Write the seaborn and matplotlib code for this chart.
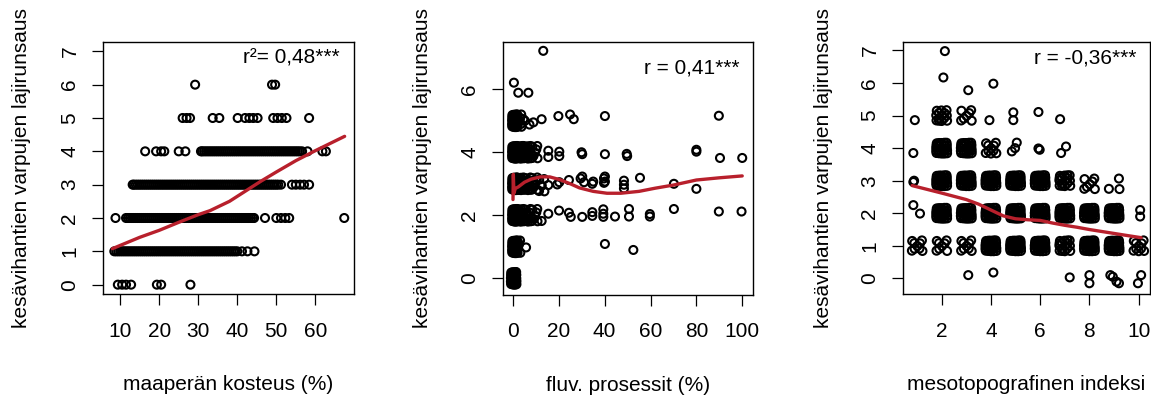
import pandas as pd
import numpy as np
import matplotlib
matplotlib.use("Agg")
import matplotlib.pyplot as plt
import seaborn as sns

sns.set_style("white")
plt.rcParams['font.family'] = ['Liberation Sans', 'DejaVu Sans']
plt.rcParams['text.color'] = 'black'
plt.rcParams['axes.labelcolor'] = 'black'

# ---------------- Data ----------------
ylabel = "kesävihantien varpujen lajirunsaus"

# Panel 1: soil moisture (%) per species richness level
moist_y0 = [9.4, 10.5, 11.5, 12.8, 19.4, 20.5, 28.0]
moist_y1 = [8.5, 9.0, 9.5, 10.0, 10.5, 11.0, 11.5, 12.0, 12.5, 13.0, 13.5, 14.0, 14.5,
            15.0, 15.5, 16.0, 16.5, 17.0, 17.5, 18.0, 18.5, 19.0, 19.5, 20.0, 20.5,
            21.0, 21.5, 22.0, 22.5, 23.0, 23.5, 24.0, 24.5, 25.0, 25.5, 26.0, 26.5,
            27.0, 27.5, 28.0, 28.5, 29.0, 29.5, 30.0, 30.5, 31.0, 31.5, 32.0, 32.5,
            33.0, 33.5, 34.0, 34.5, 35.0, 35.5, 36.0, 36.5, 37.0, 37.5, 38.0, 38.5,
            39.0, 39.5, 40.0, 41.2, 42.6, 44.4]
moist_y2 = [8.8, 11.5, 12.0, 12.5, 13.0, 13.5, 14.0, 14.5, 15.0, 15.5, 16.0, 16.5,
            17.0, 17.5, 18.0, 18.5, 19.0, 19.5, 20.0, 20.5, 21.0, 21.5, 22.0, 22.5,
            23.0, 23.5, 24.0, 24.5, 25.0, 25.5, 26.0, 26.5, 27.0, 27.5, 28.0, 28.5,
            29.0, 29.5, 30.0, 30.5, 31.0, 31.5, 32.0, 32.5, 33.0, 33.5, 34.0, 34.5,
            35.0, 35.5, 36.0, 36.5, 37.0, 37.5, 38.0, 38.5, 39.0, 39.5, 40.0, 40.5,
            41.0, 41.5, 42.0, 42.5, 43.0, 43.5, 44.0, 44.3, 47.1, 50.0, 51.2, 52.3,
            53.3, 67.4]
moist_y3 = [13.2, 13.5, 14.0, 14.5, 15.0, 15.5, 16.0, 16.5, 17.0, 17.5, 18.0, 18.5,
            19.0, 19.5, 20.0, 20.5, 21.0, 21.5, 22.0, 22.5, 23.0, 23.5, 24.0, 24.5,
            25.0, 25.5, 26.0, 26.5, 27.0, 27.5, 28.0, 28.5, 29.0, 29.5, 30.0, 30.5,
            31.0, 31.5, 32.0, 32.5, 33.0, 33.5, 34.0, 34.5, 35.0, 35.5, 36.0, 36.5,
            37.0, 37.5, 38.0, 38.5, 39.0, 39.5, 40.0, 40.5, 41.0, 41.5, 42.0, 42.5,
            43.0, 43.5, 44.0, 44.5, 45.0, 45.5, 46.0, 46.5, 47.0, 47.5, 48.0, 48.5,
            49.0, 49.5, 50.0, 50.5, 51.2, 54.0, 55.0, 56.1, 57.1, 58.4]
moist_y4 = [16.4, 19.2, 20.5, 21.3, 25.0, 26.7, 30.7, 31.0, 31.5, 32.0, 32.5, 33.0,
            33.5, 34.0, 34.5, 35.0, 35.5, 36.0, 36.5, 37.0, 37.5, 38.0, 38.5, 39.0,
            39.5, 40.0, 40.5, 41.0, 41.5, 42.0, 42.5, 43.0, 43.5, 44.0, 44.5, 45.0,
            45.5, 46.0, 46.5, 47.0, 47.5, 48.0, 48.5, 49.0, 49.5, 50.0, 50.5, 51.0,
            51.5, 52.0, 52.5, 53.0, 53.5, 54.0, 54.5, 55.0, 55.5, 56.0, 56.6, 58.0,
            61.8, 62.7]
moist_y5 = [26.0, 27.0, 27.9, 33.7, 35.4, 40.1, 42.0, 43.1, 44.1, 45.2, 49.2, 50.3,
            51.4, 52.6, 58.4]
moist_y6 = [29.2, 48.9, 49.7]
moist_fit_x = [8.0, 15.0, 20.0, 25.0, 30.0, 33.0, 38.0, 42.0, 46.0, 50.0, 55.0, 60.0, 67.5]
moist_fit_y = [1.08, 1.42, 1.63, 1.87, 2.1, 2.22, 2.5, 2.8, 3.1, 3.38, 3.72, 4.02, 4.45]

# shared jitter offsets (fractions of the jitter width) used for dense clusters
jit_u = [-0.95, 0.9, 1.0, -0.9, 0.05, -0.45, 0.55, -0.5, 0.45, 0.0, -0.05, -1.0, 0.95,
         -0.5, 0.5, -0.95, 1.0, 0.5, -0.45, -1.0, 0.95, 0.0, 0.05, -0.5, 0.5]
jit_v = [-0.9, 1.0, -0.95, 0.9, -0.05, -0.55, 0.45, 0.5, -0.5, -1.0, 0.95, 0.05, 0.0,
         -0.95, 1.0, 0.5, -0.45, -1.0, 0.95, -0.5, 0.55, -0.5, 0.5, 0.0, 0.05]

# Panel 2: fluvial processes (%); dense clusters (x, y, count) + single points
fluv_cells = [(0.3, 0.0, 25), (0.8, 1.0, 25), (2.0, 1.0, 8),
              (0.8, 2.0, 25), (3.5, 2.0, 14), (6.5, 2.0, 10), (9.5, 2.0, 7),
              (0.8, 3.0, 25), (3.5, 3.0, 14), (6.5, 3.0, 10), (9.5, 3.0, 8), (12.5, 2.95, 5),
              (0.8, 4.0, 25), (3.5, 4.0, 16), (6.5, 4.0, 12), (9.5, 4.0, 7),
              (0.8, 5.0, 25), (2.5, 5.0, 8)]
fluv_x = [13.2, 0.4, 2.3, 6.7,
          5.2, 8.9, 12.5, 19.8, 24.9, 26.5, 40.1, 89.8, 3.5, 4.5, 7.2,
          15.4, 15.4, 20.2, 20.2, 29.9, 30.2, 40.1, 49.6, 49.8, 80.0, 80.0, 90.3, 100.0,
          15.4, 20.2, 19.3, 24.4, 29.5, 30.2, 31.0, 34.6, 35.0, 39.7, 40.1, 40.1, 39.7,
          48.4, 48.4, 48.4, 55.4, 70.2, 80.0,
          15.4, 20.1, 24.4, 25.2, 30.2, 34.6, 34.6, 39.4, 39.4, 39.4, 44.5, 50.6, 50.6,
          59.7, 59.7, 70.2, 89.8, 99.7, 12.5,
          5.7, 40.1, 52.5]
fluv_y = [7.22, 6.21, 5.89, 5.89,
          5.0, 4.95, 5.05, 5.15, 5.2, 5.05, 5.15, 5.16, 4.9, 5.05, 4.88,
          3.85, 4.05, 3.88, 4.02, 4.0, 3.94, 3.94, 3.95, 3.88, 4.08, 4.02, 3.82, 3.82,
          2.96, 3.05, 2.98, 3.12, 3.17, 3.23, 3.05, 3.0, 3.07, 3.17, 3.23, 3.07, 3.03,
          3.1, 2.97, 2.85, 3.19, 3.0, 2.84,
          2.05, 2.15, 2.08, 1.95, 1.95, 2.1, 1.98, 2.19, 2.05, 1.95, 1.96, 2.2, 1.96,
          2.04, 1.96, 2.2, 2.12, 2.12, 1.82,
          0.98, 1.09, 0.9]
fluv_fit_x = [0.0, 0.15, 0.4, 1.0, 2.3, 5.0, 8.0, 12.0, 16.0, 20.5, 25.0, 29.0, 35.0,
              41.0, 47.0, 55.0, 62.0, 70.0, 80.0, 90.0, 100.0]
fluv_fit_y = [2.5, 3.3, 2.7, 2.85, 2.9, 3.05, 3.15, 3.22, 3.22, 3.13, 3.0, 2.87, 2.76,
              2.7, 2.7, 2.76, 2.86, 2.96, 3.12, 3.19, 3.25]

# Panel 3: mesotopographic index; dense clusters (x, y, count) + single points
meso_cells = [(2, 3, 25), (3, 3, 25), (4, 3, 25), (5, 3, 25), (6, 3, 25), (7, 3, 16),
              (8, 2.9, 7), (9, 2.9, 3),
              (2, 2, 25), (3, 2, 25), (4, 2, 25), (5, 2, 25), (6, 2, 25), (7, 2, 25),
              (8, 2, 25), (9, 2, 25),
              (1, 1, 9), (2, 1, 8), (3, 1, 9), (4, 1, 25), (5, 1, 25), (6, 1, 25),
              (7, 1, 16), (8, 1, 25), (9, 1, 25), (10, 1, 10),
              (2, 4, 21), (3, 4, 21), (4, 4, 10), (2, 5, 14), (3, 5, 7)]
meso_x = [2.13, 2.07, 3.08, 4.1, 0.91, 3.94, 4.91, 4.91, 5.93, 6.81,
          0.85, 5.05, 4.98, 4.85, 5.93, 5.98, 6.85, 7.05,
          0.85, 0.88, 0.85, 1.12, 10.06, 10.06,
          3.08, 4.1, 7.2, 8.0, 8.0, 8.85, 8.95, 9.1, 9.2, 10.1, 9.97]
meso_y = [6.98, 6.17, 5.78, 5.98, 4.86, 4.86, 5.1, 4.86, 5.11, 4.89,
          3.85, 4.17, 4.0, 3.9, 3.99, 3.95, 3.85, 4.05,
          2.96, 3.0, 2.25, 1.99, 2.1, 1.9,
          0.1, 0.18, 0.03, 0.1, -0.15, 0.1, 0.05, -0.1, -0.15, 0.1, -0.15]
meso_fit_x = [0.8, 2.0, 3.0, 3.5, 4.0, 4.5, 5.0, 5.5, 6.0, 6.5, 7.0, 7.5, 8.0, 8.5, 9.0, 9.5, 10.1]
meso_fit_y = [2.85, 2.62, 2.42, 2.28, 2.1, 1.92, 1.83, 1.8, 1.78, 1.7, 1.63, 1.57, 1.5,
              1.44, 1.38, 1.32, 1.25]


def expand(cells, sx, sy):
    xs, ys = [], []
    for cx, cy, n in cells:
        for u, v in zip(jit_u[:n], jit_v[:n]):
            xs.append(cx + u * sx)
            ys.append(cy + v * sy)
    return xs, ys


moist = pd.concat([pd.DataFrame({'x': v, 'y': k}) for k, v in
                   enumerate([moist_y0, moist_y1, moist_y2, moist_y3, moist_y4, moist_y5, moist_y6])])
cx, cy = expand(fluv_cells, 1.2, 0.2)
fluv = pd.DataFrame({'x': fluv_x + cx, 'y': fluv_y + cy})
cx, cy = expand(meso_cells, 0.22, 0.166)
meso = pd.DataFrame({'x': meso_x + cx, 'y': meso_y + cy})

# ---------------- Plot ----------------
fig = plt.figure(figsize=(11.51, 3.95), dpi=100)
axes = [fig.add_axes([103 / 1151, 101 / 395, 251 / 1151, 252 / 395]),
        fig.add_axes([503 / 1151, 100.3 / 395, 250 / 1151, 253 / 395]),
        fig.add_axes([903 / 1151, 101 / 395, 247 / 1151, 252 / 395])]

panels = [
    (moist, moist_fit_x, moist_fit_y, "maaperän kosteus (%)", "r²= 0,48***",
     (5.6, 69.9), (-0.28, 7.28), [10, 20, 30, 40, 50, 60], range(0, 8), (0.944, 0.975)),
    (fluv, fluv_fit_x, fluv_fit_y, "fluv. prosessit (%)", "r = 0,41***",
     (-4.36, 104.7), (-0.52, 7.51), [0, 20, 40, 60, 80, 100], [0, 2, 4, 6], (0.948, 0.935)),
    (meso, meso_fit_x, meso_fit_y, "mesotopografinen indeksi", "r = -0,36***",
     (0.43, 10.46), (-0.48, 7.26), [2, 4, 6, 8, 10], range(0, 8), (0.943, 0.975)),
]

for ax, (df, fx, fy, xlab, note, xl, yl, xt, yt, npos) in zip(axes, panels):
    sns.scatterplot(data=df, x='x', y='y', ax=ax, marker='o', s=33,
                    facecolor='none', edgecolor='black', linewidth=1.5, legend=False)
    sns.lineplot(x=fx, y=fy, ax=ax, color='#b8202c', lw=2.4, estimator=None, sort=False)
    ax.set_xlim(*xl)
    ax.set_ylim(*yl)
    ax.set_xticks(xt)
    ax.set_yticks(list(yt))
    ax.tick_params(axis='both', direction='out', length=8, width=0.9, labelsize=15,
                   color='black', labelcolor='black')
    ax.tick_params(axis='x', pad=12, bottom=True)
    ax.tick_params(axis='y', pad=9, left=True)
    for lab in ax.get_yticklabels():
        lab.set_rotation(90)
        lab.set_va('center')
    for sp in ax.spines.values():
        sp.set_visible(True)
        sp.set_color('black')
        sp.set_linewidth(1.0)
    ax.set_xlabel(xlab, fontsize=15)
    ax.set_ylabel(ylabel, fontsize=15)
    ax.xaxis.set_label_coords(0.5, -0.32)
    ax.yaxis.set_label_coords(-0.285, 0.5)
    ax.text(npos[0], npos[1], note, transform=ax.transAxes, ha='right', va='top', fontsize=15)

fig.savefig("out.png", dpi=100)
